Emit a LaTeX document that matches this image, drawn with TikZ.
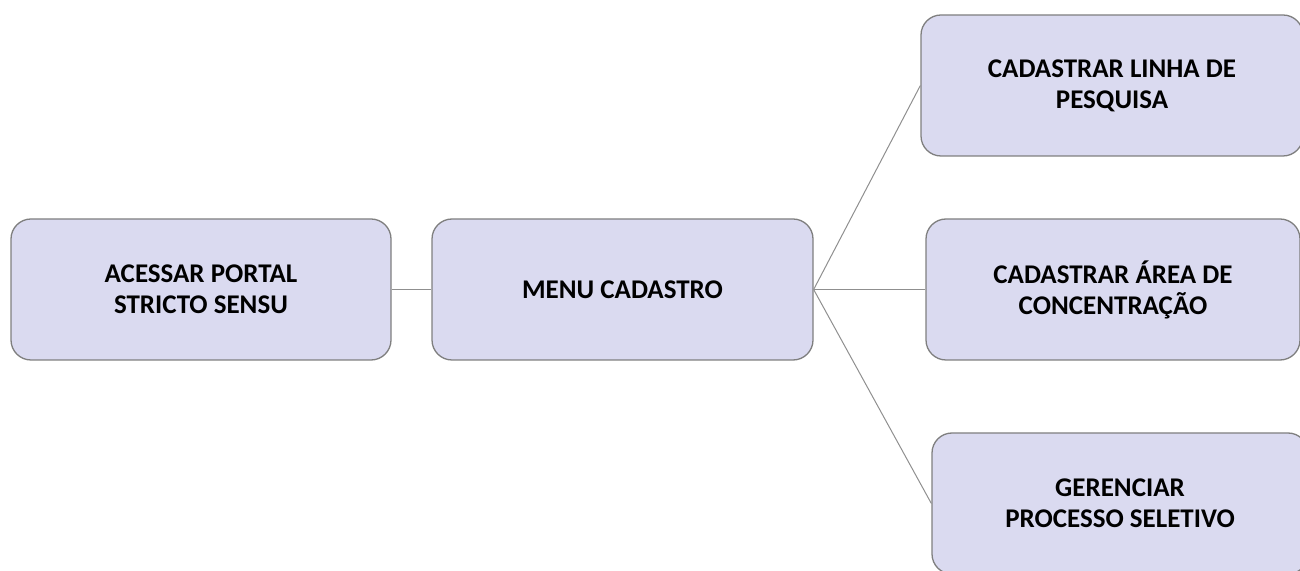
\documentclass[tikz,border=0pt]{standalone}
\usepackage{fontspec}
\setmainfont{Carlito}
\definecolor{boxfill}{HTML}{DADAF0}
\definecolor{boxline}{HTML}{7F7F7F}
\definecolor{conn}{HTML}{8F8F8F}
\begin{document}
\begin{tikzpicture}[x=1pt,y=1pt,
  stepbox/.style={draw=boxline, line width=1.3pt, fill=boxfill, rounded corners=20pt,
    minimum height=141pt, align=center, inner sep=0pt,
    font=\fontsize{27}{31}\selectfont\bfseries},
  link/.style={draw=conn, line width=1pt}]
\useasboundingbox (0,0) rectangle (1300,570);
\clip (0,0) rectangle (1300,570);
\node[stepbox, minimum width=380pt] (a) at (201,280.5) {ACESSAR PORTAL\\STRICTO SENSU};
\node[stepbox, minimum width=381pt] (b) at (622.5,280.5) {MENU CADASTRO};
\node[stepbox, minimum width=382pt] (c) at (1112,484.5) {CADASTRAR LINHA DE\\PESQUISA};
\node[stepbox, minimum width=374pt] (d) at (1113,280.5) {CADASTRAR ÁREA DE\\CONCENTRAÇÃO};
\node[stepbox, minimum width=376pt] (e) at (1120,66.5) {GERENCIAR\\PROCESSO SELETIVO};
\draw[link] (a.east) -- (b.west);
\draw[link] (b.east) -- (c.west);
\draw[link] (b.east) -- (d.west);
\draw[link] (b.east) -- (e.west);
\end{tikzpicture}
\end{document}
